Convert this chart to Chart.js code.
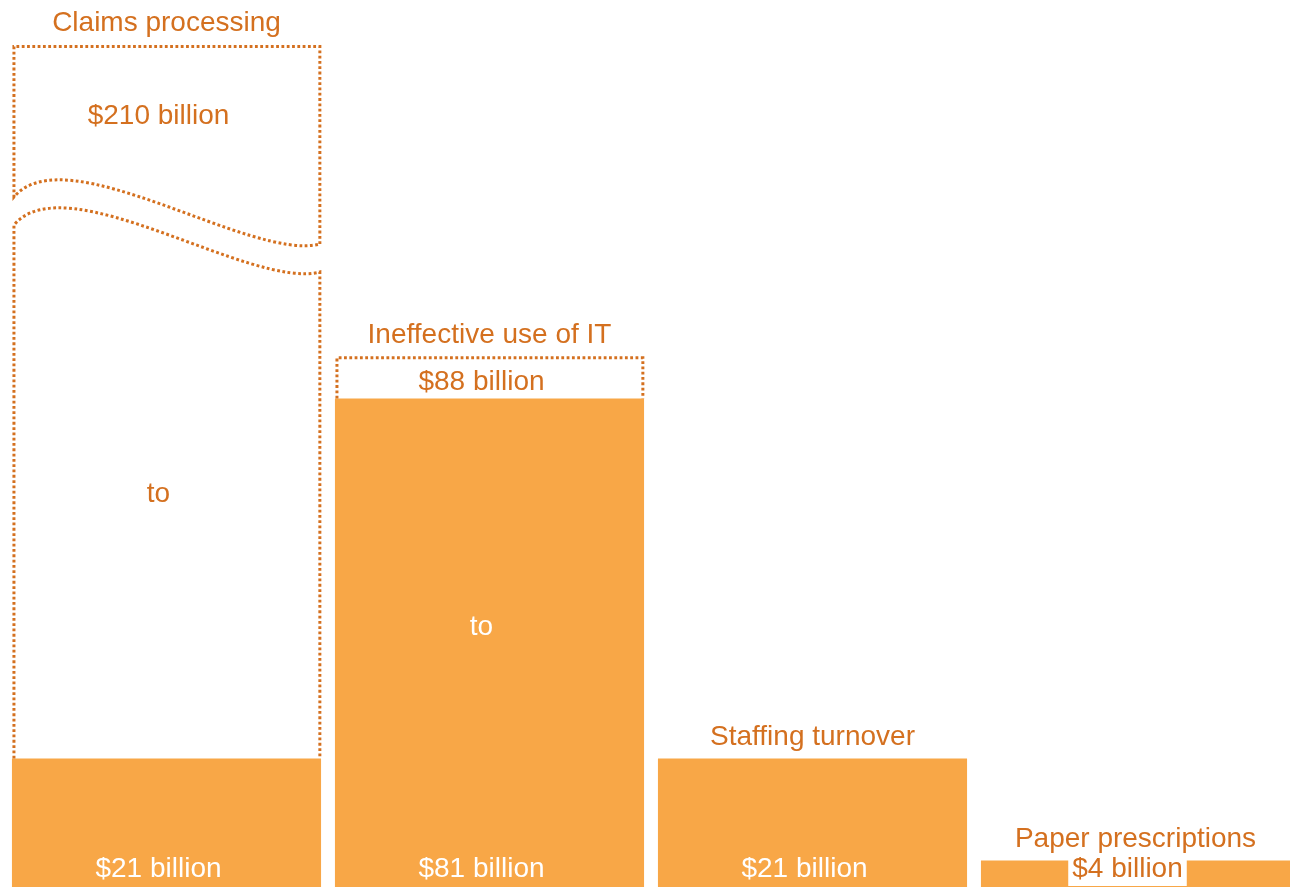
<!DOCTYPE html>
<html>
<head>
<meta charset="utf-8">
<title>Cost of inefficiency</title>
<script src="https://cdn.jsdelivr.net/npm/chart.js@4"></script>
<style>
  html, body { margin: 0; padding: 0; background: #fff; overflow: hidden; }
  #wrap { position: relative; width: 1297px; height: 892px; }
</style>
</head>
<body>
<div id="wrap"><canvas id="costChart"></canvas></div>
<script>
// Estimated yearly cost, $ billion (low end / high end of the range)
const categories = ['Claims processing', 'Ineffective use of IT', 'Staffing turnover', 'Paper prescriptions'];
const lowEstimates = [21, 81, 21, 4];
const highEstimates = [210, 88, null, null];

const Y_MIN = -0.4;
const Y_MAX = 139.9;

const ORANGE = '#f8a747';
const DARK = '#d4701f';
const FONT = '28px "Liberation Sans", Arial, sans-serif';

const fmt = (v) => `$${v} billion`;

function dotted(ctx, draw) {
  ctx.save();
  ctx.strokeStyle = DARK;
  ctx.lineWidth = 3;
  ctx.setLineDash([2.8, 2.5]);
  ctx.beginPath();
  draw();
  ctx.stroke();
  ctx.restore();
}

// wavy cut across a bar that runs off the top of the scale
function wave(ctx, L, R, y0) {
  const w = R - L;
  ctx.bezierCurveTo(L + 0.17 * w, y0 - 62, L + 0.775 * w, y0 + 65, R, y0 + 47);
}

const rangePlugin = {
  id: 'rangeOutline',
  afterDatasetsDraw(chart, args, opts) {
    const ctx = chart.ctx;
    const area = chart.chartArea;
    const yScale = chart.scales.y;
    const solid = chart.getDatasetMeta(0).data;
    const ranges = chart.getDatasetMeta(1).data;
    const dy = opts.textShift;

    ctx.save();
    ctx.font = FONT;
    ctx.textAlign = 'center';
    ctx.textBaseline = 'middle';

    categories.forEach((name, i) => {
      const bar = solid[i];
      const cx = bar.x;
      const vx = cx + opts.valueShift;
      const left = cx - bar.width / 2;
      const right = cx + bar.width / 2;
      const lowPx = bar.y;
      const bottom = bar.base;
      let topPx = lowPx;
      const high = highEstimates[i];

      if (high != null) {
        const L = left + 2;
        const R = right - 1.2;
        const broken = high > yScale.max;
        topPx = broken ? area.top : ranges[i].y;
        const lineY = topPx + 1.4;

        if (broken) {
          const yb = area.top + opts.breakAt;
          const yb2 = yb + opts.breakGap;
          dotted(ctx, () => {
            ctx.moveTo(R, yb + 47);
            ctx.lineTo(R, lineY);
            ctx.lineTo(L, lineY);
            ctx.lineTo(L, yb);
            wave(ctx, L, R, yb);
          });
          dotted(ctx, () => {
            ctx.moveTo(L, lowPx);
            ctx.lineTo(L, yb2);
            wave(ctx, L, R, yb2);
            ctx.lineTo(R, lowPx);
          });
          ctx.fillStyle = DARK;
          ctx.fillText(fmt(high), vx, area.top + 69 + dy);
        } else {
          dotted(ctx, () => {
            ctx.moveTo(L, lowPx);
            ctx.lineTo(L, lineY);
            ctx.lineTo(R, lineY);
            ctx.lineTo(R, lowPx);
          });
          ctx.fillStyle = DARK;
          ctx.fillText(fmt(high), vx, (ranges[i].y + ranges[i].base) / 2 + 2 + dy);
        }

        // "to" between the two ends of the range
        const toY = area.top + opts.toAt[i];
        ctx.fillStyle = toY > lowPx ? '#ffffff' : DARK;
        ctx.fillText('to', vx, toY + dy);
      }

      // category name above the bar
      ctx.fillStyle = DARK;
      ctx.fillText(name, cx, topPx - 24 + dy);

      // low estimate at the foot of the bar
      const label = fmt(lowEstimates[i]);
      const ly = bottom - 20 + dy;
      if (bottom - lowPx < 34) {
        const tw = ctx.measureText(label).width;
        ctx.fillStyle = '#ffffff';
        ctx.fillRect(vx - tw / 2 - 4, lowPx - 1, tw + 8, bottom - lowPx);
        ctx.fillStyle = DARK;
      } else {
        ctx.fillStyle = '#ffffff';
      }
      ctx.fillText(label, vx, ly);
    });
    ctx.restore();
  }
};

new Chart(document.getElementById('costChart'), {
  type: 'bar',
  data: {
    labels: categories,
    datasets: [
      {
        label: 'Low estimate',
        data: lowEstimates,
        base: Y_MIN,
        backgroundColor: ORANGE,
        borderWidth: 0,
        grouped: false,
        order: 1
      },
      {
        label: 'Range',
        data: highEstimates.map((h, i) => (h == null ? null : [lowEstimates[i], h])),
        backgroundColor: 'rgba(0,0,0,0)',
        borderWidth: 0,
        grouped: false,
        order: 2
      }
    ]
  },
  options: {
    responsive: true,
    maintainAspectRatio: false,
    animation: false,
    events: [],
    layout: { padding: { left: 5, right: 0, top: 45, bottom: 5 } },
    datasets: { bar: { categoryPercentage: 0.957, barPercentage: 1 } },
    scales: {
      x: { display: false },
      y: { display: false, min: Y_MIN, max: Y_MAX }
    },
    plugins: {
      legend: { display: false },
      tooltip: { enabled: false },
      rangeOutline: { breakAt: 152, breakGap: 28, toAt: [447, 580], textShift: 2.5, valueShift: -8 }
    }
  },
  plugins: [rangePlugin]
});
</script>
</body>
</html>
